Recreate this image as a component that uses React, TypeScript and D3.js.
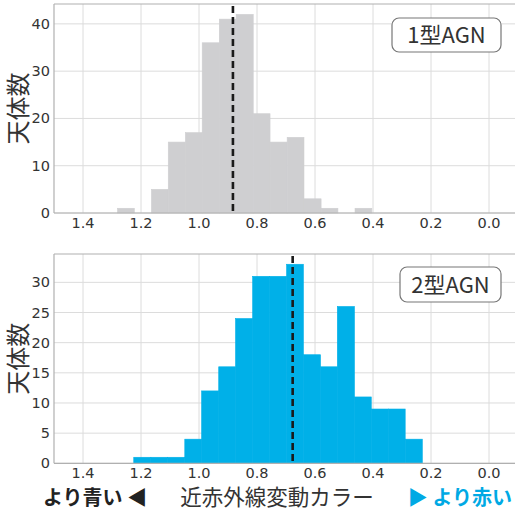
import {useEffect, useRef} from "react";
import * as d3 from "d3";

// bin edges (color, decreasing) and counts
const type1Edges = [1.281, 1.223, 1.164, 1.106, 1.047, 0.989, 0.930, 0.872, 0.813, 0.755, 0.696, 0.638, 0.579, 0.521, 0.462, 0.404];
const type1Counts = [1, 0, 5, 15, 17, 36, 41, 42, 21, 15, 16, 3, 1, 0, 1];
const type1Median = 0.883;

const type2Edges = [1.225, 1.166, 1.108, 1.049, 0.991, 0.932, 0.874, 0.815, 0.757, 0.698, 0.640, 0.581, 0.523, 0.464, 0.406, 0.347, 0.289, 0.230];
const type2Counts = [1, 1, 1, 4, 12, 16, 24, 31, 31, 33, 18, 16, 26, 11, 9, 9, 4];
const type2Median = 0.677;

const xTicks = [1.4, 1.2, 1.0, 0.8, 0.6, 0.4, 0.2, 0.0];
const type1YTicks = [0, 10, 20, 30, 40];
const type2YTicks = [0, 5, 10, 15, 20, 25, 30];

const W = 515, H = 511;
const JP = "'Noto Sans CJK JP', 'Noto Sans', sans-serif";
const TICK = "'DejaVu Sans', sans-serif";

const App = () => {
    const ref = useRef(null);

    useEffect(() => {
        const svg = d3.select(ref.current);
        svg.selectAll("*").remove();

        const x = d3.scaleLinear().domain([1.5, -0.1]).range([54, 518]);

        const drawPanel = (top, bottom, yMax, edges, counts, median, yTicks, color, label, box) => {
            const y = d3.scaleLinear().domain([0, yMax]).range([bottom, top]);
            const g = svg.append("g");

            // grid
            g.selectAll(".vg").data(xTicks).enter().append("line")
                .attr("x1", d => x(d)).attr("x2", d => x(d))
                .attr("y1", top).attr("y2", bottom)
                .attr("stroke", "#dcdcdc").attr("stroke-width", 1);
            g.selectAll(".hg").data(yTicks).enter().append("line")
                .attr("x1", 54).attr("x2", W)
                .attr("y1", d => y(d)).attr("y2", d => y(d))
                .attr("stroke", "#dcdcdc").attr("stroke-width", 1);

            // bars
            g.selectAll(".bar").data(counts).enter().append("rect")
                .attr("x", (d, i) => x(edges[i]))
                .attr("width", (d, i) => x(edges[i + 1]) - x(edges[i]))
                .attr("y", d => y(d))
                .attr("height", d => bottom - y(d))
                .attr("fill", color)
                .attr("stroke", color).attr("stroke-width", 0.6);

            // spines
            g.append("line").attr("x1", 54).attr("x2", W).attr("y1", top).attr("y2", top)
                .attr("stroke", "#b0b0b0").attr("stroke-width", 1.2);
            g.append("line").attr("x1", 54).attr("x2", W).attr("y1", bottom).attr("y2", bottom)
                .attr("stroke", "#b0b0b0").attr("stroke-width", 1.2);
            g.append("line").attr("x1", 54).attr("x2", 54).attr("y1", top).attr("y2", bottom)
                .attr("stroke", "#b0b0b0").attr("stroke-width", 1.2);

            // median
            g.append("line")
                .attr("x1", x(median)).attr("x2", x(median))
                .attr("y1", top + 2).attr("y2", bottom)
                .attr("stroke", "#1a1a1a").attr("stroke-width", 2.6)
                .attr("stroke-dasharray", "7,4");

            // tick labels
            g.selectAll(".xt").data(xTicks).enter().append("text")
                .attr("x", d => x(d)).attr("y", bottom + 15)
                .attr("text-anchor", "middle")
                .attr("font-family", TICK).attr("font-size", 14.5).attr("fill", "#333")
                .text(d => d.toFixed(1));
            g.selectAll(".yt").data(yTicks).enter().append("text")
                .attr("x", 50).attr("y", d => y(d) + 5)
                .attr("text-anchor", "end")
                .attr("font-family", TICK).attr("font-size", 14.5).attr("fill", "#333")
                .text(d => d);

            // y label
            const cy = (top + bottom) / 2;
            g.append("text")
                .attr("transform", `translate(27, ${cy}) rotate(-90)`)
                .attr("text-anchor", "middle")
                .attr("font-family", JP).attr("font-size", 24).attr("fill", "#333")
                .text("天体数");

            // label box
            g.append("rect")
                .attr("x", box[0]).attr("y", box[1]).attr("width", box[2]).attr("height", box[3])
                .attr("rx", 7).attr("fill", "#fff").attr("stroke", "#777").attr("stroke-width", 1.2);
            g.append("text")
                .attr("x", box[0] + box[2] / 2).attr("y", box[1] + box[3] / 2 + 8)
                .attr("text-anchor", "middle")
                .attr("font-family", JP).attr("font-size", 22).attr("fill", "#333")
                .text(label);
        };

        drawPanel(4, 213, 44.2, type1Edges, type1Counts, type1Median, type1YTicks, "#cfcfd1", "1型AGN", [392, 18, 109, 34]);
        drawPanel(254, 463.3, 34.7, type2Edges, type2Counts, type2Median, type2YTicks, "#00b0e8", "2型AGN", [400, 267, 101, 35]);

        // bottom caption
        svg.append("text").attr("x", 43).attr("y", 505)
            .attr("font-family", JP).attr("font-weight", "bold").attr("font-size", 20).attr("fill", "#222")
            .text("より青い ◀");
        svg.append("text").attr("x", 277).attr("y", 505).attr("text-anchor", "middle")
            .attr("font-family", JP).attr("font-size", 21.5).attr("fill", "#333")
            .text("近赤外線変動カラー");
        svg.append("text").attr("x", 512).attr("y", 505).attr("text-anchor", "end")
            .attr("font-family", JP).attr("font-weight", "bold").attr("font-size", 20).attr("fill", "#00a9e4")
            .text("▶ より赤い");
    }, []);

    return <svg ref={ref} width={W} height={H} style={{position: "absolute", left: 0, top: 0, background: "#fff"}}></svg>;
};

export default App;
